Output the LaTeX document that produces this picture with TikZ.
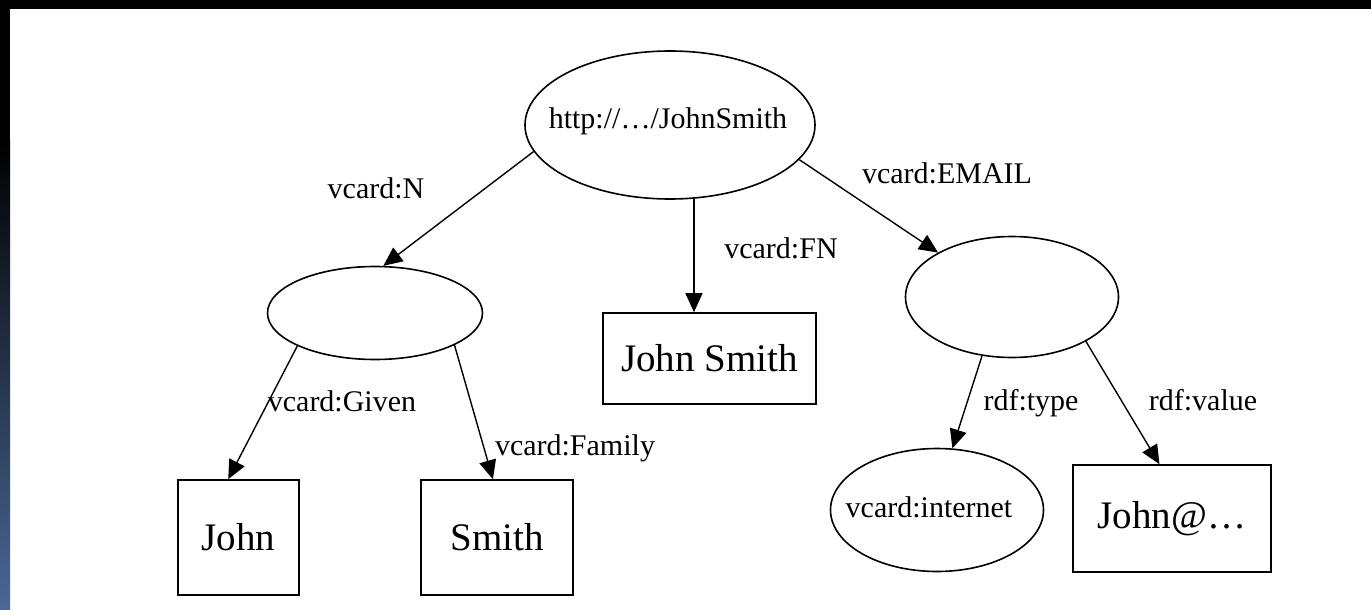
\documentclass[tikz,border=0pt]{standalone}
\usepackage{fontspec}
\setmainfont{Liberation Serif}
\usetikzlibrary{shapes.geometric,arrows.meta}

\definecolor{bandblue}{RGB}{74,104,150}

\tikzset{
  oval/.style={ellipse, draw, line width=1.6pt, inner sep=0pt},
  box/.style={rectangle, draw, line width=1.6pt, inner sep=0pt, font=\fontsize{39}{44}\selectfont},
  lbl/.style={inner sep=0pt, anchor=base, font=\fontsize{30}{36}\selectfont},
  link/.style={line width=1.4pt, -{Triangle[length=19pt,width=17pt]}},
}

\begin{document}
\begin{tikzpicture}[x=1pt, y=-1pt]
  \useasboundingbox (0,0) rectangle (1371,610);
  % frame
  \fill[white] (0,0) rectangle (1371,610);
  \fill[black] (0,0) rectangle (1371,9);
  \fill[black] (0,9) rectangle (10,140);
  \shade[top color=black, bottom color=bandblue] (0,140) rectangle (10,610);
  % resources
  \node[oval, minimum width=290pt, minimum height=148pt] (card) at (670,125) {};
  \node[oval, minimum width=215pt, minimum height=93pt] (name) at (375,313) {};
  \node[oval, minimum width=213pt, minimum height=121pt] (mail) at (1012,297) {};
  \node[oval, minimum width=213pt, minimum height=123pt] (inet) at (937,510) {};
  \node[lbl] (cardtxt) at (668,128) {http://…/JohnSmith};
  \node[lbl] (inettxt) at (929,517) {vcard:internet};
  % literals
  \foreach \n/\x/\y/\w/\h/\t in {full/709.5/358.5/213/91/John Smith,
      given/238.5/537.5/121/115/John, family/497/537.5/152/115/Smith,
      addr/1172/518.5/198/107/John@…} {
    \node[box, minimum width=\w pt, minimum height=\h pt] (\n) at (\x,\y) {\t};
  }
  % properties
  \draw[link] (card.191) -- (name.80);
  \draw[link] (card.-72) -- (card.-72 |- full.north);
  \draw[link] (card.-15) -- (mail.149);
  \draw[link] (name.203) -- (given.100);
  \draw[link] (name.-22) -- (family.94);
  \draw[link] (mail.243) -- (inet.76);
  \draw[link] (mail.-31) -- (addr.103);
  % property names
  \node[lbl] (pN) at (376,198) {vcard:N};
  \node[lbl] (pFN) at (781,258) {vcard:FN};
  \node[lbl] (pEMAIL) at (947,183) {vcard:EMAIL};
  \node[lbl] (pGiven) at (342,411) {vcard:Given};
  \node[lbl] (pFamily) at (575,455) {vcard:Family};
  \node[lbl] (pType) at (1031,410) {rdf:type};
  \node[lbl] (pValue) at (1203,410) {rdf:value};
\end{tikzpicture}
\end{document}
